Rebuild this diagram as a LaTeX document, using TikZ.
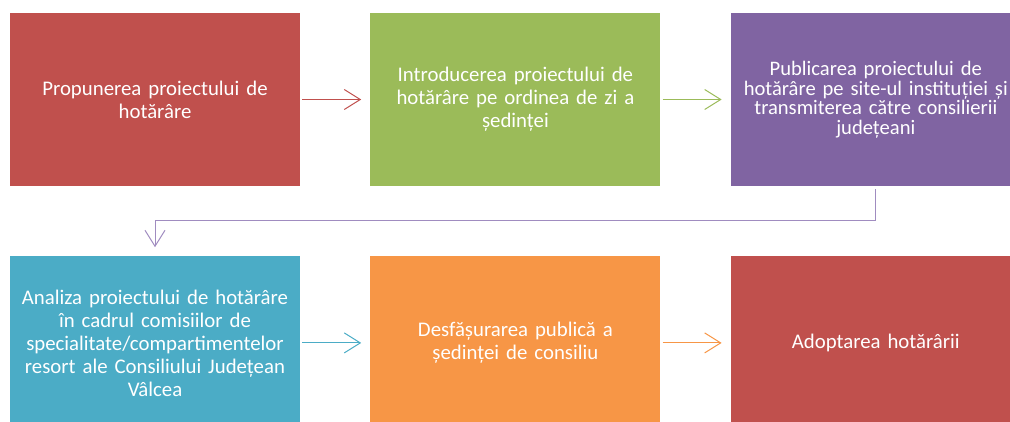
\documentclass[tikz,border=0pt]{standalone}
\usepackage{fontspec}
\setmainfont{Carlito}
\usepackage{tikz}
\usetikzlibrary{positioning, arrows.meta}
\definecolor{brick}{HTML}{C0504D}
\definecolor{olive}{HTML}{9BBB59}
\definecolor{plum}{HTML}{8064A2}
\definecolor{plumline}{HTML}{A08CC0}
\definecolor{teal}{HTML}{4BACC6}
\definecolor{apricot}{HTML}{F79646}

\begin{document}
\begin{tikzpicture}[node distance=70pt, >={Straight Barb[length=16pt, width=20pt]},
  stepbox/.style={rectangle, inner sep=0pt, minimum width=290pt, minimum height=173pt,
    text width=284pt, align=center, text=white, font=\fontsize{20.8}{23}\selectfont},
  flow/.style={->, line width=1pt, shorten <=2pt, shorten >=9pt}]
\clip (0pt,0pt) rectangle (1010pt,-421pt);
\useasboundingbox (0pt,0pt) rectangle (1010pt,-421pt);
% Top row
\node[stepbox, fill=brick] at (155pt,-99.5pt) (propose) {Propunerea proiectului de\\hotărâre};
\node[stepbox, fill=olive, right=of propose] (agenda) {Introducerea proiectului de\\hotărâre pe ordinea de zi a\\ședinței};
\node[stepbox, fill=plum, right=of agenda, font=\fontsize{20.6}{19.5}\selectfont] (publish) {Publicarea proiectului de\\hotărâre pe site-ul instituției și\\transmiterea către consilierii\\județeani};

% Bottom row
\node[stepbox, fill=teal, below=of propose] (analysis) {Analiza proiectului de hotărâre\\în cadrul comisiilor de\\specialitate/compartimentelor\\resort ale Consiliului Județean\\Vâlcea};
\node[stepbox, fill=apricot, right=of analysis] (session) {Desfășurarea publică a\\ședinței de consiliu};
\node[stepbox, fill=brick, right=of session] (adopt) {Adoptarea hotărârii};

% Connections
\draw[flow, brick] (propose) -- (agenda);
\draw[flow, olive] (agenda) -- (publish);
\draw[->, line width=1pt, plumline] ([yshift=-3pt]publish.south) -- ++(0,-31pt) -| ([yshift=9pt]analysis.north);
\draw[flow, teal] (analysis) -- (session);
\draw[flow, apricot] (session) -- (adopt);
\end{tikzpicture}
\end{document}
